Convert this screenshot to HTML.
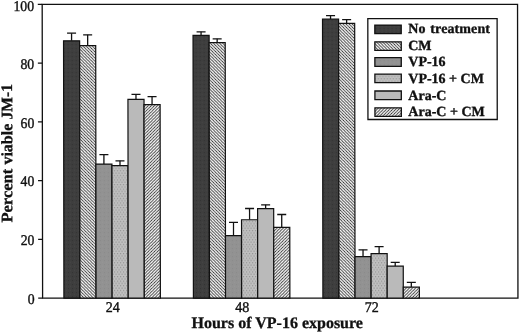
<!DOCTYPE html>
<html><head><meta charset="utf-8"><style>
html,body{margin:0;padding:0;background:#fff;width:520px;height:333px;overflow:hidden}
svg{display:block}
text{font-family:"Liberation Serif",serif;fill:#111}
svg{will-change:transform;filter:blur(0.3px)}
</style></head><body>
<svg width="520" height="333" viewBox="0 0 520 333">
<defs>
<pattern id="pDark" width="4" height="4" patternUnits="userSpaceOnUse"><rect width="4" height="4" fill="#3e3e3e"/><rect x="0" y="0" width="1" height="1" fill="#333"/><rect x="2" y="2" width="1" height="1" fill="#474747"/></pattern>
<pattern id="pBack" width="3.1" height="3.1" patternUnits="userSpaceOnUse"><rect width="3.1" height="3.1" fill="#fff"/><path d="M-1,-1 L4.1,4.1 M-1,2.1 L1,4.1 M2.1,-1 L4.1,1" stroke="#2a2a2a" stroke-width="0.85"/></pattern>
<pattern id="pFwd" width="3.1" height="3.1" patternUnits="userSpaceOnUse"><rect width="3.1" height="3.1" fill="#fff"/><path d="M-1,4.1 L4.1,-1 M-1,1 L1,-1 M2.1,4.1 L4.1,2.1" stroke="#2a2a2a" stroke-width="0.85"/></pattern>
<pattern id="pVP" width="4" height="4" patternUnits="userSpaceOnUse"><rect width="4" height="4" fill="#929292"/><rect x="0" y="0" width="1" height="1" fill="#8a8a8a"/><rect x="2" y="2" width="1" height="1" fill="#989898"/></pattern>
<pattern id="pDots" width="3" height="4.6" patternUnits="userSpaceOnUse"><rect width="3" height="4.6" fill="#c0c0c0"/><rect x="0" y="0" width="1.2" height="1.2" fill="#959595"/><rect x="1.5" y="2.3" width="1.2" height="1.2" fill="#959595"/></pattern>
<pattern id="pAra" width="4" height="4" patternUnits="userSpaceOnUse"><rect width="4" height="4" fill="#bababa"/></pattern>
</defs>
<g transform="matrix(1,0,0.0014,1,-0.417,0)">

<rect x="42.6" y="4.3" width="475.35" height="293.9" fill="none" stroke="#111" stroke-width="1.3"/>
<line x1="38.2" y1="298.20" x2="42.6" y2="298.20" stroke="#111" stroke-width="1.3"/>
<text transform="translate(34.5,303.90) scale(0.93,1)" font-size="14.8" text-anchor="end" stroke="#111" stroke-width="0.4">0</text>
<line x1="38.2" y1="239.42" x2="42.6" y2="239.42" stroke="#111" stroke-width="1.3"/>
<text transform="translate(34.5,245.12) scale(0.93,1)" font-size="14.8" text-anchor="end" stroke="#111" stroke-width="0.4">20</text>
<line x1="38.2" y1="180.64" x2="42.6" y2="180.64" stroke="#111" stroke-width="1.3"/>
<text transform="translate(34.5,186.34) scale(0.93,1)" font-size="14.8" text-anchor="end" stroke="#111" stroke-width="0.4">40</text>
<line x1="38.2" y1="121.86" x2="42.6" y2="121.86" stroke="#111" stroke-width="1.3"/>
<text transform="translate(34.5,127.56) scale(0.93,1)" font-size="14.8" text-anchor="end" stroke="#111" stroke-width="0.4">60</text>
<line x1="38.2" y1="63.08" x2="42.6" y2="63.08" stroke="#111" stroke-width="1.3"/>
<text transform="translate(34.5,68.78) scale(0.93,1)" font-size="14.8" text-anchor="end" stroke="#111" stroke-width="0.4">80</text>
<line x1="38.2" y1="4.30" x2="42.6" y2="4.30" stroke="#111" stroke-width="1.3"/>
<text transform="translate(34.5,10.70) scale(0.93,1)" font-size="14.8" text-anchor="end" stroke="#111" stroke-width="0.4">100</text>
<line x1="71.94" y1="40.85" x2="71.94" y2="33.20" stroke="#111" stroke-width="1.3"/>
<line x1="67.44" y1="33.20" x2="76.44" y2="33.20" stroke="#111" stroke-width="1.3"/>
<rect x="63.90" y="40.85" width="16.08" height="257.35" fill="url(#pDark)" stroke="#111" stroke-width="1.2"/>
<line x1="88.02" y1="45.65" x2="88.02" y2="34.80" stroke="#111" stroke-width="1.3"/>
<line x1="83.52" y1="34.80" x2="92.52" y2="34.80" stroke="#111" stroke-width="1.3"/>
<rect x="79.98" y="45.65" width="16.08" height="252.55" fill="url(#pBack)" stroke="#111" stroke-width="1.2"/>
<line x1="104.10" y1="164.05" x2="104.10" y2="154.60" stroke="#111" stroke-width="1.3"/>
<line x1="99.60" y1="154.60" x2="108.60" y2="154.60" stroke="#111" stroke-width="1.3"/>
<rect x="96.06" y="164.05" width="16.08" height="134.15" fill="url(#pVP)" stroke="#111" stroke-width="1.2"/>
<line x1="120.18" y1="165.65" x2="120.18" y2="160.80" stroke="#111" stroke-width="1.3"/>
<line x1="115.68" y1="160.80" x2="124.68" y2="160.80" stroke="#111" stroke-width="1.3"/>
<rect x="112.14" y="165.65" width="16.08" height="132.55" fill="url(#pDots)" stroke="#111" stroke-width="1.2"/>
<line x1="136.26" y1="99.35" x2="136.26" y2="94.30" stroke="#111" stroke-width="1.3"/>
<line x1="131.76" y1="94.30" x2="140.76" y2="94.30" stroke="#111" stroke-width="1.3"/>
<rect x="128.22" y="99.35" width="16.08" height="198.85" fill="url(#pAra)" stroke="#111" stroke-width="1.2"/>
<line x1="152.34" y1="104.55" x2="152.34" y2="96.60" stroke="#111" stroke-width="1.3"/>
<line x1="147.84" y1="96.60" x2="156.84" y2="96.60" stroke="#111" stroke-width="1.3"/>
<rect x="144.30" y="104.55" width="16.08" height="193.65" fill="url(#pFwd)" stroke="#111" stroke-width="1.2"/>
<text transform="translate(112.64,311.6) scale(0.95,1)" font-size="14.8" text-anchor="middle" stroke="#111" stroke-width="0.4">24</text>
<line x1="201.44" y1="35.45" x2="201.44" y2="31.80" stroke="#111" stroke-width="1.3"/>
<line x1="196.94" y1="31.80" x2="205.94" y2="31.80" stroke="#111" stroke-width="1.3"/>
<rect x="193.40" y="35.45" width="16.08" height="262.75" fill="url(#pDark)" stroke="#111" stroke-width="1.2"/>
<line x1="217.52" y1="42.65" x2="217.52" y2="38.80" stroke="#111" stroke-width="1.3"/>
<line x1="213.02" y1="38.80" x2="222.02" y2="38.80" stroke="#111" stroke-width="1.3"/>
<rect x="209.48" y="42.65" width="16.08" height="255.55" fill="url(#pBack)" stroke="#111" stroke-width="1.2"/>
<line x1="233.60" y1="235.65" x2="233.60" y2="222.30" stroke="#111" stroke-width="1.3"/>
<line x1="229.10" y1="222.30" x2="238.10" y2="222.30" stroke="#111" stroke-width="1.3"/>
<rect x="225.56" y="235.65" width="16.08" height="62.55" fill="url(#pVP)" stroke="#111" stroke-width="1.2"/>
<line x1="249.68" y1="219.75" x2="249.68" y2="208.50" stroke="#111" stroke-width="1.3"/>
<line x1="245.18" y1="208.50" x2="254.18" y2="208.50" stroke="#111" stroke-width="1.3"/>
<rect x="241.64" y="219.75" width="16.08" height="78.45" fill="url(#pDots)" stroke="#111" stroke-width="1.2"/>
<line x1="265.76" y1="208.55" x2="265.76" y2="204.80" stroke="#111" stroke-width="1.3"/>
<line x1="261.26" y1="204.80" x2="270.26" y2="204.80" stroke="#111" stroke-width="1.3"/>
<rect x="257.72" y="208.55" width="16.08" height="89.65" fill="url(#pAra)" stroke="#111" stroke-width="1.2"/>
<line x1="281.84" y1="227.35" x2="281.84" y2="214.50" stroke="#111" stroke-width="1.3"/>
<line x1="277.34" y1="214.50" x2="286.34" y2="214.50" stroke="#111" stroke-width="1.3"/>
<rect x="273.80" y="227.35" width="16.08" height="70.85" fill="url(#pFwd)" stroke="#111" stroke-width="1.2"/>
<text transform="translate(242.14,311.6) scale(0.95,1)" font-size="14.8" text-anchor="middle" stroke="#111" stroke-width="0.4">48</text>
<line x1="330.94" y1="19.15" x2="330.94" y2="15.70" stroke="#111" stroke-width="1.3"/>
<line x1="326.44" y1="15.70" x2="335.44" y2="15.70" stroke="#111" stroke-width="1.3"/>
<rect x="322.90" y="19.15" width="16.08" height="279.05" fill="url(#pDark)" stroke="#111" stroke-width="1.2"/>
<line x1="347.02" y1="23.45" x2="347.02" y2="19.60" stroke="#111" stroke-width="1.3"/>
<line x1="342.52" y1="19.60" x2="351.52" y2="19.60" stroke="#111" stroke-width="1.3"/>
<rect x="338.98" y="23.45" width="16.08" height="274.75" fill="url(#pBack)" stroke="#111" stroke-width="1.2"/>
<line x1="363.10" y1="256.55" x2="363.10" y2="249.80" stroke="#111" stroke-width="1.3"/>
<line x1="358.60" y1="249.80" x2="367.60" y2="249.80" stroke="#111" stroke-width="1.3"/>
<rect x="355.06" y="256.55" width="16.08" height="41.65" fill="url(#pVP)" stroke="#111" stroke-width="1.2"/>
<line x1="379.18" y1="253.55" x2="379.18" y2="246.60" stroke="#111" stroke-width="1.3"/>
<line x1="374.68" y1="246.60" x2="383.68" y2="246.60" stroke="#111" stroke-width="1.3"/>
<rect x="371.14" y="253.55" width="16.08" height="44.65" fill="url(#pDots)" stroke="#111" stroke-width="1.2"/>
<line x1="395.26" y1="266.15" x2="395.26" y2="262.30" stroke="#111" stroke-width="1.3"/>
<line x1="390.76" y1="262.30" x2="399.76" y2="262.30" stroke="#111" stroke-width="1.3"/>
<rect x="387.22" y="266.15" width="16.08" height="32.05" fill="url(#pAra)" stroke="#111" stroke-width="1.2"/>
<line x1="411.34" y1="287.15" x2="411.34" y2="282.30" stroke="#111" stroke-width="1.3"/>
<line x1="406.84" y1="282.30" x2="415.84" y2="282.30" stroke="#111" stroke-width="1.3"/>
<rect x="403.30" y="287.15" width="16.08" height="11.05" fill="url(#pFwd)" stroke="#111" stroke-width="1.2"/>
<text transform="translate(371.64,311.6) scale(0.95,1)" font-size="14.8" text-anchor="middle" stroke="#111" stroke-width="0.4">72</text>
<text x="277.2" y="328.5" font-size="16" font-weight="bold" text-anchor="middle" stroke="#111" stroke-width="0.3">Hours of VP-16 exposure</text>
<g font-size="16" font-weight="bold" stroke="#111" stroke-width="0.3"><text transform="translate(12.4,222.6) rotate(-90) scale(1.035,1)">Percent</text><text transform="translate(12.4,164.6) rotate(-90)">viable</text><text transform="translate(12.4,119.4) rotate(-90) scale(0.97,1)">JM-1</text></g>
<rect x="368.2" y="18.6" width="129.3" height="100.9" fill="#fff" stroke="#111" stroke-width="1.3"/>
<rect x="375.2" y="25.10" width="26.4" height="8.6" fill="url(#pDark)" stroke="#111" stroke-width="1.3"/>
<text x="408.6" y="32.90" font-size="14" font-weight="bold" stroke="#111" stroke-width="0.35" letter-spacing="0.1" word-spacing="1.2">No treatment</text>
<rect x="375.2" y="41.80" width="26.4" height="8.6" fill="url(#pBack)" stroke="#111" stroke-width="1.3"/>
<text x="408.6" y="49.70" font-size="14" font-weight="bold" stroke="#111" stroke-width="0.35">CM</text>
<rect x="375.2" y="57.70" width="26.4" height="8.6" fill="url(#pVP)" stroke="#111" stroke-width="1.3"/>
<text x="408.6" y="66.30" font-size="14" font-weight="bold" stroke="#111" stroke-width="0.35">VP-16</text>
<rect x="375.2" y="74.10" width="26.4" height="8.6" fill="url(#pDots)" stroke="#111" stroke-width="1.3"/>
<text x="408.6" y="83.00" font-size="14" font-weight="bold" stroke="#111" stroke-width="0.35">VP-16 + CM</text>
<rect x="375.2" y="91.00" width="26.4" height="8.6" fill="url(#pAra)" stroke="#111" stroke-width="1.3"/>
<text x="408.6" y="99.60" font-size="14" font-weight="bold" stroke="#111" stroke-width="0.35">Ara-C</text>
<rect x="375.2" y="107.80" width="26.4" height="8.6" fill="url(#pFwd)" stroke="#111" stroke-width="1.3"/>
<text x="408.6" y="116.10" font-size="14" font-weight="bold" stroke="#111" stroke-width="0.35">Ara-C + CM</text>
</g></svg></body></html>
